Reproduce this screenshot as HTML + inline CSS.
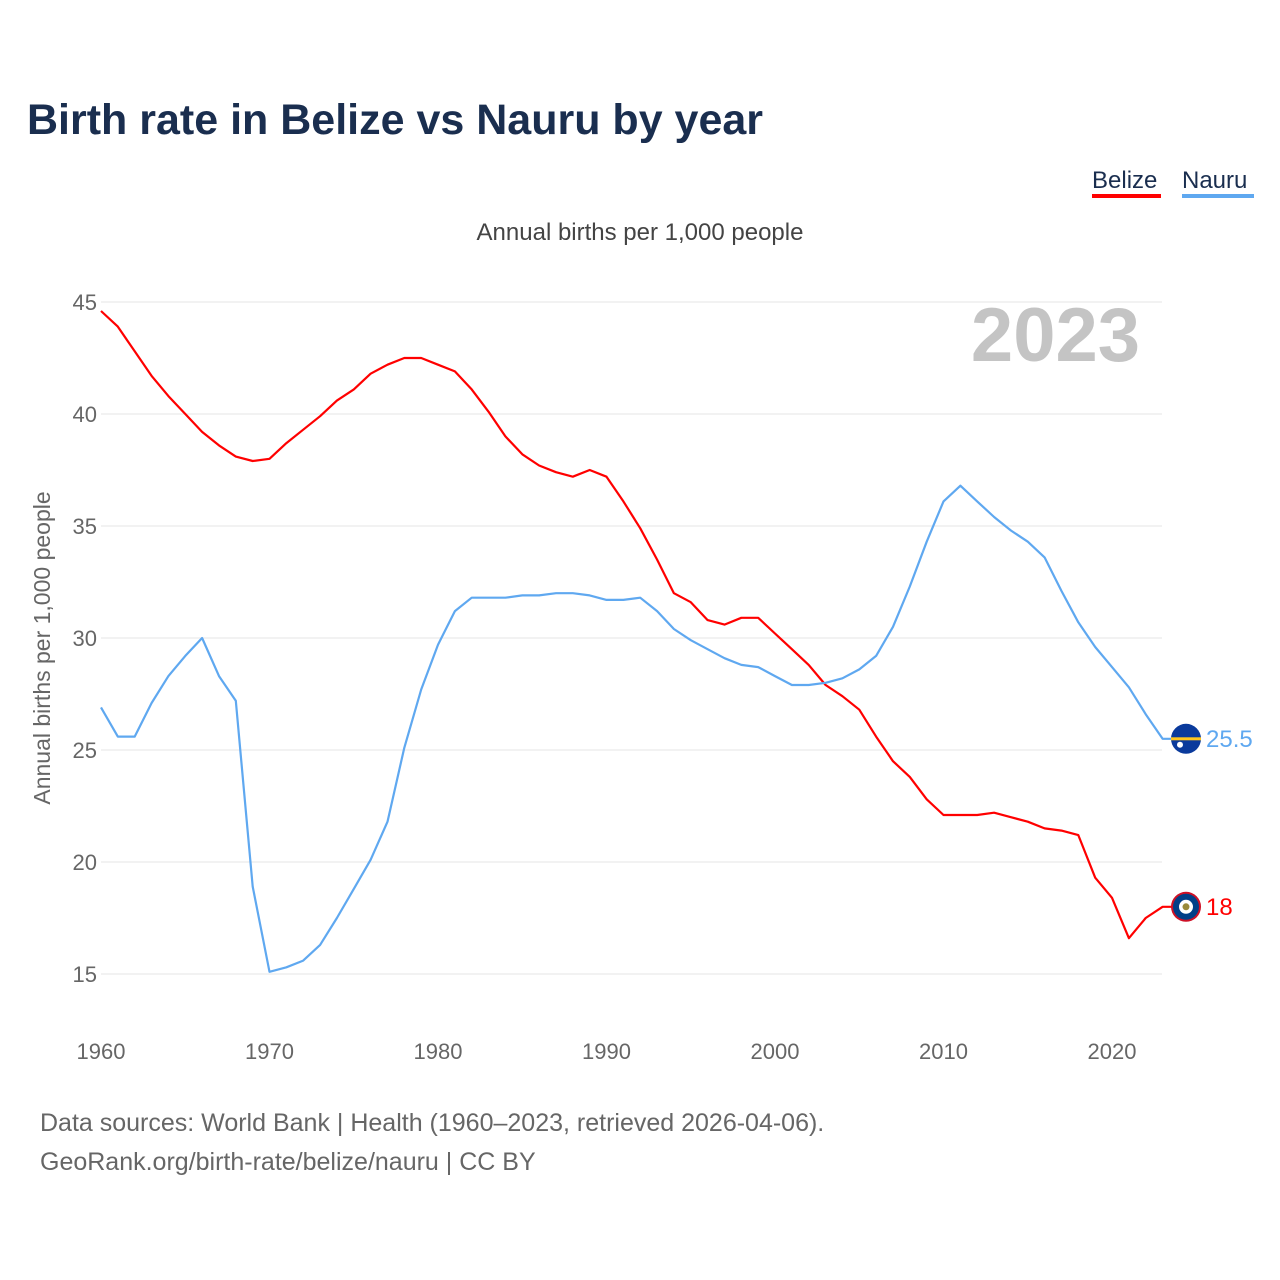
<!DOCTYPE html>
<html><head><meta charset="utf-8"><style>
body{margin:0;background:#fff;font-family:"Liberation Sans",sans-serif}
svg{display:block}
</style></head><body>
<svg id="chart" width="1280" height="1280" viewBox="0 0 1280 1280">
<text x="27" y="134" font-size="43" font-weight="bold" fill="#1a2e4f">Birth rate in Belize vs Nauru by year</text>
<g>
<text x="1092" y="188" font-size="24" fill="#1a2e4f">Belize</text>
<rect x="1092" y="194" width="69" height="4" fill="#ff0000"/>
<text x="1182" y="188" font-size="24" fill="#1a2e4f">Nauru</text>
<rect x="1182" y="194" width="72" height="4" fill="#5fa8f0"/>
</g>
<text x="640" y="240" font-size="24" fill="#444" text-anchor="middle">Annual births per 1,000 people</text>
<text x="50" y="648" font-size="23" fill="#666" text-anchor="middle" transform="rotate(-90 50 648)">Annual births per 1,000 people</text>
<text x="1140" y="361" font-size="76" font-weight="bold" fill="#c4c4c4" text-anchor="end">2023</text>
<g id="grid"></g><g id="xticks"></g><g id="lines"></g><g id="ends"></g>
<text x="40" y="1131" font-size="25" fill="#666">Data sources: World Bank | Health (1960–2023, retrieved 2026-04-06).</text>
<text x="40" y="1170" font-size="25" fill="#666">GeoRank.org/birth-rate/belize/nauru | CC BY</text>
</svg>
<script>
const years=[];for(let y=1960;y<=2023;y++)years.push(y);
const belize=[44.6,43.9,42.8,41.7,40.8,40.0,39.2,38.6,38.1,37.9,38.0,38.7,39.3,39.9,40.6,41.1,41.8,42.2,42.5,42.5,42.2,41.9,41.1,40.1,39.0,38.2,37.7,37.4,37.2,37.5,37.2,36.1,34.9,33.5,32.0,31.6,30.8,30.6,30.9,30.9,30.2,29.5,28.8,27.9,27.4,26.8,25.6,24.5,23.8,22.8,22.1,22.1,22.1,22.2,22.0,21.8,21.5,21.4,21.2,19.3,18.4,16.6,17.5,18.0];
const nauru=[26.9,25.6,25.6,27.1,28.3,29.2,30.0,28.3,27.2,18.9,15.1,15.3,15.6,16.3,17.5,18.8,20.1,21.8,25.1,27.7,29.7,31.2,31.8,31.8,31.8,31.9,31.9,32.0,32.0,31.9,31.7,31.7,31.8,31.2,30.4,29.9,29.5,29.1,28.8,28.7,28.3,27.9,27.9,28.0,28.2,28.6,29.2,30.5,32.3,34.3,36.1,36.8,36.1,35.4,34.8,34.3,33.6,32.1,30.7,29.6,28.7,27.8,26.6,25.5];
const yTicks=[15,20,25,30,35,40,45];
const xTicks=[1960,1970,1980,1990,2000,2010,2020];
const NS="http://www.w3.org/2000/svg";
const X=y=>101+(y-1960)*16.85;
const Y=v=>302+(45-v)*22.4;
function mk(t,a,p){const e=document.createElementNS(NS,t);for(const k in a)e.setAttribute(k,a[k]);p.appendChild(e);return e;}
const grid=document.getElementById('grid');
yTicks.forEach(v=>{
 const l=mk('line',{x1:101,x2:1162,y1:Y(v),y2:Y(v),stroke:'#e6e6e6','stroke-width':1},grid);
 
 
 const t=mk('text',{x:97,y:Y(v)+8,'font-size':22,fill:'#666','text-anchor':'end'},grid);t.textContent=v;
 
 
});
const xt=document.getElementById('xticks');
xTicks.forEach(v=>{
 const t=mk('text',{x:X(v),y:1059,'font-size':22,fill:'#666','text-anchor':'middle'},xt);t.textContent=v;
 
 
});
const lines=document.getElementById('lines');
[[belize,'#ff0000','belize'],[nauru,'#5fa8f0','nauru']].forEach(([d,c,n])=>{
 let p=d.map((v,i)=>(i?'L':'M')+X(years[i]).toFixed(1)+','+Y(v).toFixed(1)).join('');
 p+='L1186,'+Y(d[d.length-1]).toFixed(1);
 const e=mk('path',{d:p,fill:'none',stroke:c,'stroke-width':2.2,'stroke-linejoin':'round'},lines);
 
 
});
const ends=document.getElementById('ends');
const bv=belize[belize.length-1],nv=nauru[nauru.length-1];
let f=mk('g',{},ends);
mk('circle',{cx:1186,cy:Y(nv),r:15,fill:'#0a3a9c'},f);
mk('rect',{x:1171,y:Y(nv)-1.5,width:30,height:3,fill:'#ffc61e'},f);
mk('circle',{cx:1180,cy:Y(nv)+6,r:3,fill:'#fff'},f);
let f2=mk('g',{},ends);
mk('circle',{cx:1186,cy:Y(bv),r:15,fill:'#ce1126'},f2);
mk('circle',{cx:1186,cy:Y(bv),r:13,fill:'#003f87'},f2);
mk('circle',{cx:1186,cy:Y(bv),r:7,fill:'#fff'},f2);
mk('circle',{cx:1186,cy:Y(bv),r:3.5,fill:'#9a8a3a'},f2);
let t1=mk('text',{x:1206,y:Y(nv)+8,'font-size':24,fill:'#5fa8f0'},ends);t1.textContent=nv;


let t2=mk('text',{x:1206,y:Y(bv)+8,'font-size':24,fill:'#ff0000'},ends);t2.textContent=bv;


</script>
</body></html>
